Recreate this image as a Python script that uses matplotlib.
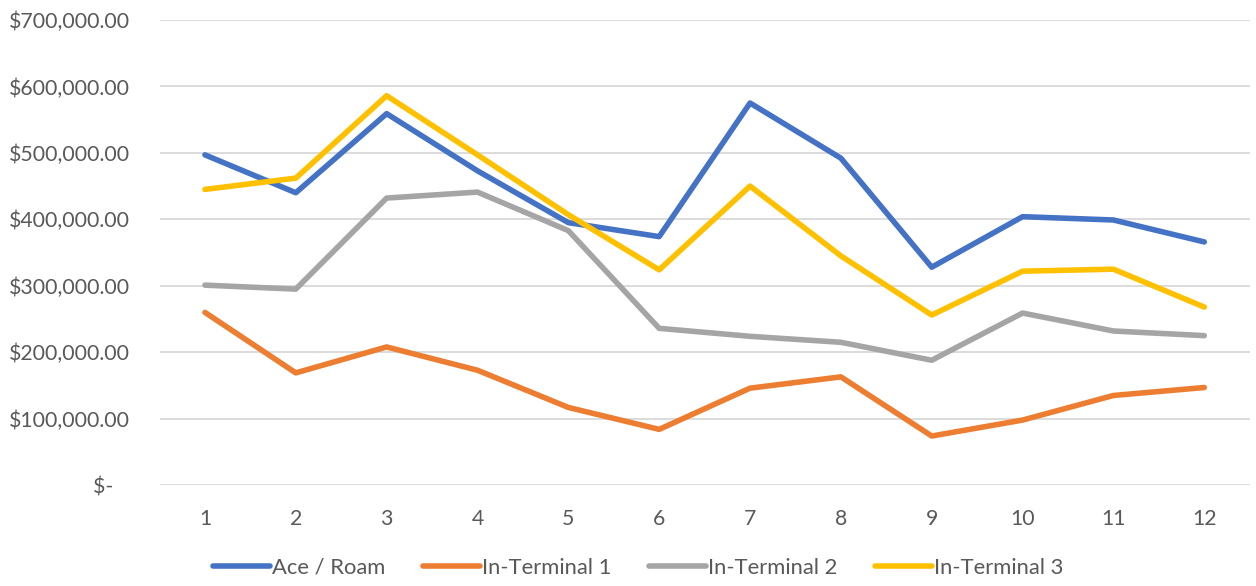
import matplotlib
matplotlib.use("Agg")
import matplotlib.pyplot as plt
from matplotlib.ticker import FuncFormatter

# data
months = list(range(1, 13))
ace_roam = [497000, 440000, 559000, 473000, 395000, 374000, 575000, 492000, 328000, 404000, 399000, 366000]
terminal_1 = [260000, 169000, 208000, 173000, 117000, 84000, 146000, 163000, 74000, 98000, 135000, 147000]
terminal_2 = [301000, 295000, 432000, 441000, 383000, 236000, 224000, 215000, 188000, 259000, 232000, 225000]
terminal_3 = [445000, 462000, 586000, 497000, 407000, 324000, 450000, 345000, 256000, 322000, 325000, 268000]

series = [
    ("Ace / Roam", ace_roam, "#4472C4"),
    ("In-Terminal 1", terminal_1, "#ED7D31"),
    ("In-Terminal 2", terminal_2, "#A5A5A5"),
    ("In-Terminal 3", terminal_3, "#FFC000"),
]

plt.rcParams['font.family'] = ['Lato', 'DejaVu Sans']
text_color = "#595959"

fig = plt.figure(figsize=(12.56, 5.86), dpi=100)
ax = fig.add_axes([0.127, 0.172, 0.868, 0.794])

for name, vals, col in series:
    ax.plot(months, vals, color=col, linewidth=4, label=name,
            solid_capstyle='round', solid_joinstyle='round')

ax.set_xlim(0.5, 12.5)
ax.set_ylim(0, 700000)
ax.set_yticks(range(0, 700001, 100000))
ax.set_xticks(months)

def money(v, pos):
    if v == 0:
        return "$-   "
    return "${:,.2f}".format(v)

ax.yaxis.set_major_formatter(FuncFormatter(money))
ax.grid(axis='y', color='#D9D9D9', linewidth=1.3)
ax.set_axisbelow(True)
for s in ax.spines.values():
    s.set_visible(False)
ax.tick_params(length=0, labelsize=15.3, colors=text_color)
ax.tick_params(axis='y', pad=21)
ax.tick_params(axis='x', pad=17)

leg = fig.legend(loc='center', bbox_to_anchor=(0.508, 1 - 568 / 586), ncol=4,
                 frameon=False, fontsize=15.8, handlelength=2.6,
                 handletextpad=0.1, columnspacing=1.7)
for t in leg.get_texts():
    t.set_color(text_color)

fig.savefig("out.png", dpi=100)
